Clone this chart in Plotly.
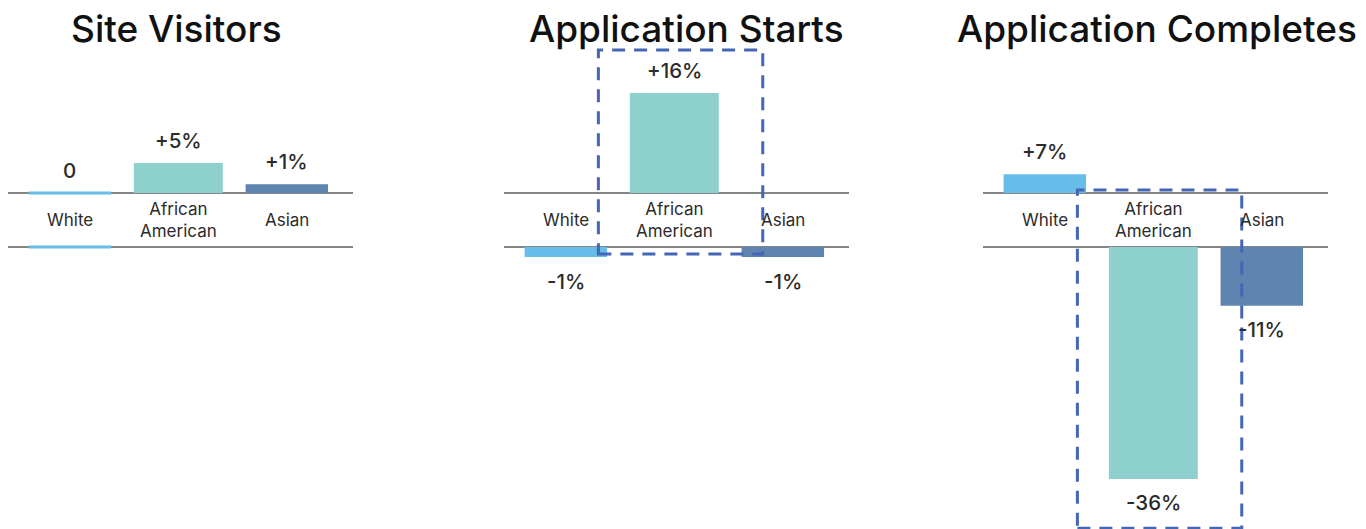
import plotly.graph_objects as go

# ---------------- data ----------------
categories = ["White", "African American", "Asian"]
category_labels = ["White", "African<br>American", "Asian"]
panel_titles = ["Site Visitors", "Application Starts", "Application Completes"]

# bar lengths as drawn (percentage points)
site_visitors = [0.0, 4.8, 1.4]
application_starts = [-1.6, 16.0, -1.6]
application_completes = [3.0, -37.1, -9.4]

# printed value labels
site_visitors_labels = ["0", "+5%", "+1%"]
application_starts_labels = ["-1%", "+16%", "-1%"]
application_completes_labels = ["+7%", "-36%", "-11%"]

highlighted = [None, "African American", "African American"]

# ---------------- style ----------------
W, H = 1366, 529
BAR_COLORS = ["#67bce9", "#8ed0ce", "#5e84b0"]
BAR_WIDTHS = [0.76, 0.82, 0.76]
BAND = 4.32            # half-height of the label band (in % units)
PX_PER_UNIT = 6.25
Y_TOP = BAND + 193 / PX_PER_UNIT
Y_BOT = -BAND - (H - 247) / PX_PER_UNIT
X_RANGE = [-0.57, 2.61]
DOMAINS_PX = [(8, 353), (504, 849), (983, 1328)]
TITLE_X = [0.488, 0.53, 0.504]
FONT = "Inter"
TEXT_COLOR = "#2b2b2b"
LINE_COLOR = "#5c5c5c"
DASH_COLOR = "#4565b5"

panels = [
    (site_visitors, site_visitors_labels),
    (application_starts, application_starts_labels),
    (application_completes, application_completes_labels),
]

fig = go.Figure()
annotations = []
shapes = []

for p, (vals, labels) in enumerate(panels):
    sfx = "" if p == 0 else str(p + 1)
    xa, ya = "x" + sfx, "y" + sfx
    top = [v if v >= 0 else None for v in vals]
    bot = [v if v <= 0 else None for v in vals]
    lw = [3 if v == 0 else 0 for v in vals]
    for ys, base in ((top, BAND), (bot, -BAND)):
        fig.add_trace(go.Bar(
            x=categories, y=ys, base=base, width=BAR_WIDTHS,
            marker=dict(color=BAR_COLORS, line=dict(color=BAR_COLORS, width=lw)),
            xaxis=xa, yaxis=ya, showlegend=False, hoverinfo="skip",
        ))
    # band lines
    for yv in (BAND, -BAND):
        shapes.append(dict(type="line", xref=xa + " domain", yref=ya,
                           x0=0, x1=1, y0=yv, y1=yv,
                           line=dict(color=LINE_COLOR, width=1.6), layer="below"))
    # category labels
    for c, lab in zip(categories, category_labels):
        annotations.append(dict(x=c, y=0, xref=xa, yref=ya, text=lab,
                                showarrow=False, yanchor="middle",
                                font=dict(family=FONT, size=17, color=TEXT_COLOR)))
    # value labels
    for c, v, lab in zip(categories, vals, labels):
        end = BAND + v if v >= 0 else -BAND + v
        annotations.append(dict(x=c, y=end, xref=xa, yref=ya, text=lab,
                                showarrow=False, yanchor="middle",
                                yshift=23 if v >= 0 else -24,
                                font=dict(family=FONT, size=20.5, color=TEXT_COLOR, weight=500)))
    # title
    annotations.append(dict(x=TITLE_X[p], y=1 - 29 / H, xref=xa + " domain", yref="paper",
                            text=panel_titles[p], showarrow=False, yanchor="middle",
                            font=dict(family=FONT, size=37, color="#111111", weight=500)))
    # highlight box
    if highlighted[p] is not None:
        i = categories.index(highlighted[p])
        v = vals[i]
        if v >= 0:
            y0, y1 = -BAND - 1.1, BAND + v + 6.9
        else:
            y0, y1 = -BAND + v - 7.9, BAND + 0.5
        shapes.append(dict(type="rect", xref=xa, yref=ya,
                           x0=i - 0.70, x1=i + 0.815, y0=y0, y1=y1,
                           line=dict(color=DASH_COLOR, width=3, dash="13px,9px"),
                           fillcolor="rgba(0,0,0,0)", layer="above"))

layout = dict(
    width=W, height=H, margin=dict(l=0, r=0, t=0, b=0),
    paper_bgcolor="white", plot_bgcolor="white",
    barmode="overlay", showlegend=False,
    annotations=annotations, shapes=shapes,
)
for p, (a, b) in enumerate(DOMAINS_PX):
    sfx = "" if p == 0 else str(p + 1)
    layout["xaxis" + sfx] = dict(domain=[a / W, b / W], range=X_RANGE, visible=False,
                                 anchor="y" + sfx, type="category",
                                 categoryorder="array", categoryarray=categories)
    layout["yaxis" + sfx] = dict(domain=[0, 1], range=[Y_BOT, Y_TOP], visible=False,
                                 anchor="x" + sfx)
fig.update_layout(**layout)
fig.write_html("out.html")
